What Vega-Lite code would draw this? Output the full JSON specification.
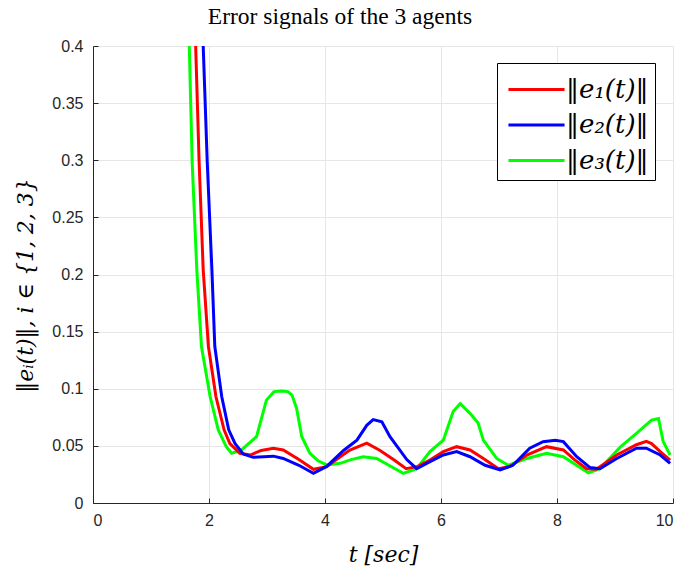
{
  "$schema": "https://vega.github.io/schema/vega-lite/v6.json",
  "autosize": "none",
  "width": 580,
  "height": 457,
  "padding": {"left": 93, "top": 46, "right": 7, "bottom": 64},
  "background": "white",
  "title": {
    "text": "Error signals of the 3 agents",
    "font": "Liberation Serif",
    "fontSize": 23.5,
    "fontWeight": "normal",
    "color": "black",
    "anchor": "middle",
    "frame": "group",
    "dx": -43,
    "dy": 27,
    "baseline": "alphabetic",
    "offset": 18
  },
  "data": {
    "values": [
      {"t": 1.55, "v": 0.55, "s": "‖e₃(t)‖"},
      {"t": 1.66, "v": 0.40, "s": "‖e₃(t)‖"},
      {"t": 1.71, "v": 0.298, "s": "‖e₃(t)‖"},
      {"t": 1.79, "v": 0.204, "s": "‖e₃(t)‖"},
      {"t": 1.87, "v": 0.137, "s": "‖e₃(t)‖"},
      {"t": 2.02, "v": 0.093, "s": "‖e₃(t)‖"},
      {"t": 2.16, "v": 0.064, "s": "‖e₃(t)‖"},
      {"t": 2.30, "v": 0.049, "s": "‖e₃(t)‖"},
      {"t": 2.39, "v": 0.0435, "s": "‖e₃(t)‖"},
      {"t": 2.55, "v": 0.046, "s": "‖e₃(t)‖"},
      {"t": 2.82, "v": 0.058, "s": "‖e₃(t)‖"},
      {"t": 2.99, "v": 0.090, "s": "‖e₃(t)‖"},
      {"t": 3.12, "v": 0.0975, "s": "‖e₃(t)‖"},
      {"t": 3.25, "v": 0.098, "s": "‖e₃(t)‖"},
      {"t": 3.36, "v": 0.0975, "s": "‖e₃(t)‖"},
      {"t": 3.43, "v": 0.0945, "s": "‖e₃(t)‖"},
      {"t": 3.51, "v": 0.083, "s": "‖e₃(t)‖"},
      {"t": 3.60, "v": 0.058, "s": "‖e₃(t)‖"},
      {"t": 3.74, "v": 0.0435, "s": "‖e₃(t)‖"},
      {"t": 3.88, "v": 0.037, "s": "‖e₃(t)‖"},
      {"t": 4.03, "v": 0.0333, "s": "‖e₃(t)‖"},
      {"t": 4.26, "v": 0.0347, "s": "‖e₃(t)‖"},
      {"t": 4.45, "v": 0.038, "s": "‖e₃(t)‖"},
      {"t": 4.66, "v": 0.0405, "s": "‖e₃(t)‖"},
      {"t": 4.89, "v": 0.039, "s": "‖e₃(t)‖"},
      {"t": 5.10, "v": 0.033, "s": "‖e₃(t)‖"},
      {"t": 5.35, "v": 0.026, "s": "‖e₃(t)‖"},
      {"t": 5.58, "v": 0.030, "s": "‖e₃(t)‖"},
      {"t": 5.81, "v": 0.045, "s": "‖e₃(t)‖"},
      {"t": 6.04, "v": 0.055, "s": "‖e₃(t)‖"},
      {"t": 6.21, "v": 0.080, "s": "‖e₃(t)‖"},
      {"t": 6.33, "v": 0.087, "s": "‖e₃(t)‖"},
      {"t": 6.50, "v": 0.0785, "s": "‖e₃(t)‖"},
      {"t": 6.64, "v": 0.070, "s": "‖e₃(t)‖"},
      {"t": 6.73, "v": 0.055, "s": "‖e₃(t)‖"},
      {"t": 6.96, "v": 0.039, "s": "‖e₃(t)‖"},
      {"t": 7.16, "v": 0.033, "s": "‖e₃(t)‖"},
      {"t": 7.48, "v": 0.039, "s": "‖e₃(t)‖"},
      {"t": 7.82, "v": 0.0435, "s": "‖e₃(t)‖"},
      {"t": 8.11, "v": 0.0405, "s": "‖e₃(t)‖"},
      {"t": 8.54, "v": 0.0265, "s": "‖e₃(t)‖"},
      {"t": 8.74, "v": 0.030, "s": "‖e₃(t)‖"},
      {"t": 9.09, "v": 0.049, "s": "‖e₃(t)‖"},
      {"t": 9.37, "v": 0.061, "s": "‖e₃(t)‖"},
      {"t": 9.63, "v": 0.0726, "s": "‖e₃(t)‖"},
      {"t": 9.75, "v": 0.074, "s": "‖e₃(t)‖"},
      {"t": 9.83, "v": 0.054, "s": "‖e₃(t)‖"},
      {"t": 9.95, "v": 0.042, "s": "‖e₃(t)‖"},

      {"t": 1.65, "v": 0.55, "s": "‖e₁(t)‖"},
      {"t": 1.77, "v": 0.40, "s": "‖e₁(t)‖"},
      {"t": 1.83, "v": 0.298, "s": "‖e₁(t)‖"},
      {"t": 1.90, "v": 0.204, "s": "‖e₁(t)‖"},
      {"t": 1.99, "v": 0.137, "s": "‖e₁(t)‖"},
      {"t": 2.12, "v": 0.093, "s": "‖e₁(t)‖"},
      {"t": 2.26, "v": 0.064, "s": "‖e₁(t)‖"},
      {"t": 2.36, "v": 0.052, "s": "‖e₁(t)‖"},
      {"t": 2.53, "v": 0.0435, "s": "‖e₁(t)‖"},
      {"t": 2.71, "v": 0.042, "s": "‖e₁(t)‖"},
      {"t": 2.90, "v": 0.046, "s": "‖e₁(t)‖"},
      {"t": 3.11, "v": 0.048, "s": "‖e₁(t)‖"},
      {"t": 3.28, "v": 0.0464, "s": "‖e₁(t)‖"},
      {"t": 3.55, "v": 0.038, "s": "‖e₁(t)‖"},
      {"t": 3.80, "v": 0.0295, "s": "‖e₁(t)‖"},
      {"t": 4.03, "v": 0.0318, "s": "‖e₁(t)‖"},
      {"t": 4.25, "v": 0.040, "s": "‖e₁(t)‖"},
      {"t": 4.43, "v": 0.0464, "s": "‖e₁(t)‖"},
      {"t": 4.72, "v": 0.0524, "s": "‖e₁(t)‖"},
      {"t": 4.95, "v": 0.046, "s": "‖e₁(t)‖"},
      {"t": 5.18, "v": 0.038, "s": "‖e₁(t)‖"},
      {"t": 5.40, "v": 0.030, "s": "‖e₁(t)‖"},
      {"t": 5.60, "v": 0.032, "s": "‖e₁(t)‖"},
      {"t": 5.81, "v": 0.0376, "s": "‖e₁(t)‖"},
      {"t": 6.04, "v": 0.045, "s": "‖e₁(t)‖"},
      {"t": 6.27, "v": 0.0493, "s": "‖e₁(t)‖"},
      {"t": 6.50, "v": 0.0464, "s": "‖e₁(t)‖"},
      {"t": 6.73, "v": 0.039, "s": "‖e₁(t)‖"},
      {"t": 6.99, "v": 0.030, "s": "‖e₁(t)‖"},
      {"t": 7.19, "v": 0.032, "s": "‖e₁(t)‖"},
      {"t": 7.48, "v": 0.042, "s": "‖e₁(t)‖"},
      {"t": 7.82, "v": 0.0493, "s": "‖e₁(t)‖"},
      {"t": 8.11, "v": 0.0464, "s": "‖e₁(t)‖"},
      {"t": 8.30, "v": 0.038, "s": "‖e₁(t)‖"},
      {"t": 8.51, "v": 0.030, "s": "‖e₁(t)‖"},
      {"t": 8.68, "v": 0.0295, "s": "‖e₁(t)‖"},
      {"t": 9.03, "v": 0.042, "s": "‖e₁(t)‖"},
      {"t": 9.37, "v": 0.051, "s": "‖e₁(t)‖"},
      {"t": 9.54, "v": 0.054, "s": "‖e₁(t)‖"},
      {"t": 9.63, "v": 0.052, "s": "‖e₁(t)‖"},
      {"t": 9.78, "v": 0.045, "s": "‖e₁(t)‖"},
      {"t": 9.95, "v": 0.0376, "s": "‖e₁(t)‖"},

      {"t": 1.78, "v": 0.55, "s": "‖e₂(t)‖"},
      {"t": 1.90, "v": 0.40, "s": "‖e₂(t)‖"},
      {"t": 1.97, "v": 0.298, "s": "‖e₂(t)‖"},
      {"t": 2.05, "v": 0.204, "s": "‖e₂(t)‖"},
      {"t": 2.10, "v": 0.137, "s": "‖e₂(t)‖"},
      {"t": 2.22, "v": 0.093, "s": "‖e₂(t)‖"},
      {"t": 2.34, "v": 0.064, "s": "‖e₂(t)‖"},
      {"t": 2.45, "v": 0.052, "s": "‖e₂(t)‖"},
      {"t": 2.59, "v": 0.043, "s": "‖e₂(t)‖"},
      {"t": 2.76, "v": 0.040, "s": "‖e₂(t)‖"},
      {"t": 3.11, "v": 0.041, "s": "‖e₂(t)‖"},
      {"t": 3.28, "v": 0.039, "s": "‖e₂(t)‖"},
      {"t": 3.55, "v": 0.033, "s": "‖e₂(t)‖"},
      {"t": 3.80, "v": 0.026, "s": "‖e₂(t)‖"},
      {"t": 4.03, "v": 0.032, "s": "‖e₂(t)‖"},
      {"t": 4.32, "v": 0.046, "s": "‖e₂(t)‖"},
      {"t": 4.55, "v": 0.055, "s": "‖e₂(t)‖"},
      {"t": 4.72, "v": 0.068, "s": "‖e₂(t)‖"},
      {"t": 4.83, "v": 0.073, "s": "‖e₂(t)‖"},
      {"t": 4.98, "v": 0.071, "s": "‖e₂(t)‖"},
      {"t": 5.12, "v": 0.058, "s": "‖e₂(t)‖"},
      {"t": 5.41, "v": 0.038, "s": "‖e₂(t)‖"},
      {"t": 5.58, "v": 0.030, "s": "‖e₂(t)‖"},
      {"t": 5.81, "v": 0.0362, "s": "‖e₂(t)‖"},
      {"t": 6.04, "v": 0.042, "s": "‖e₂(t)‖"},
      {"t": 6.27, "v": 0.045, "s": "‖e₂(t)‖"},
      {"t": 6.50, "v": 0.0405, "s": "‖e₂(t)‖"},
      {"t": 6.76, "v": 0.033, "s": "‖e₂(t)‖"},
      {"t": 7.02, "v": 0.029, "s": "‖e₂(t)‖"},
      {"t": 7.24, "v": 0.033, "s": "‖e₂(t)‖"},
      {"t": 7.53, "v": 0.048, "s": "‖e₂(t)‖"},
      {"t": 7.76, "v": 0.0537, "s": "‖e₂(t)‖"},
      {"t": 7.97, "v": 0.055, "s": "‖e₂(t)‖"},
      {"t": 8.11, "v": 0.0537, "s": "‖e₂(t)‖"},
      {"t": 8.34, "v": 0.0405, "s": "‖e₂(t)‖"},
      {"t": 8.57, "v": 0.031, "s": "‖e₂(t)‖"},
      {"t": 8.74, "v": 0.030, "s": "‖e₂(t)‖"},
      {"t": 9.03, "v": 0.039, "s": "‖e₂(t)‖"},
      {"t": 9.37, "v": 0.048, "s": "‖e₂(t)‖"},
      {"t": 9.54, "v": 0.048, "s": "‖e₂(t)‖"},
      {"t": 9.78, "v": 0.042, "s": "‖e₂(t)‖"},
      {"t": 9.95, "v": 0.0347, "s": "‖e₂(t)‖"}
    ]
  },
  "mark": {"type": "line", "strokeWidth": 3, "clip": true},
  "encoding": {
    "x": {
      "field": "t", "type": "quantitative",
      "scale": {"domain": [0, 10], "nice": false},
      "axis": {
        "title": "t [sec]",
        "values": [0, 2, 4, 6, 8, 10],
        "labelPadding": 14,
        "titleY": 58, "titleBaseline": "alphabetic"
      }
    },
    "y": {
      "field": "v", "type": "quantitative",
      "scale": {"domain": [0, 0.4], "nice": false, "zero": false},
      "axis": {
        "title": "‖eᵢ(t)‖, i ∈ {1, 2, 3}",
        "values": [0, 0.05, 0.1, 0.15, 0.2, 0.25, 0.3, 0.35, 0.4],
        "format": ".2~f",
        "labelPadding": 15,
        "titleX": -68, "titleY": 239, "titleAngle": 270, "titleBaseline": "middle", "titleAlign": "center"
      }
    },
    "color": {
      "field": "s", "type": "nominal",
      "scale": {"domain": ["‖e₁(t)‖", "‖e₂(t)‖", "‖e₃(t)‖"], "range": ["#ff0000", "#0000ff", "#00ff00"]},
      "legend": {
        "title": null, "orient": "none", "legendX": 404, "legendY": 17,
        "strokeColor": "black", "fillColor": "white", "padding": 6,
        "labelFont": "DejaVu Serif", "labelFontSize": 26, "labelFontStyle": "italic", "labelColor": "black",
        "symbolType": "M-1.5,0H1.5", "symbolSize": 1400, "symbolStrokeWidth": 3, "symbolOffset": 13,
        "rowPadding": 1.5, "labelOffset": 9,
        "labelLimit": 200
      }
    }
  },
  "config": {
    "view": {"stroke": null},
    "axis": {
      "domainColor": "#262626", "domainWidth": 1,
      "tickColor": "#262626", "tickSize": -5, "tickWidth": 1,
      "gridColor": "#e6e6e6", "gridWidth": 1,
      "labelFont": "Liberation Sans", "labelFontSize": 16, "labelColor": "#262626",
      "titleFont": "DejaVu Serif", "titleFontSize": 22, "titleFontStyle": "italic", "titleFontWeight": "normal", "titleColor": "black"
    }
  }
}
